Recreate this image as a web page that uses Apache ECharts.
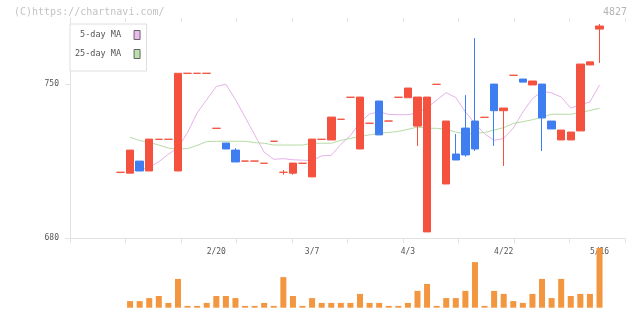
<!DOCTYPE html>
<html><head><meta charset="utf-8">
<script src="https://cdn.jsdelivr.net/npm/echarts@6/dist/echarts.min.js"></script>
<style>html,body{margin:0;padding:0;background:#fff}#c{width:640px;height:311px}</style>
</head><body><div id="c"></div>
<script>
// ---- data ----
const tickIndex = [10, 20, 30, 40, 50];
const tickLabels = ['2/20', '3/7', '4/3', '4/22', '5/16'];

const opens  = [710, 709.6, 715.1, 710.6, 725, 725, 710.6, 755, 755, 755, 730, 723.3, 720.1, 715.1, 715.1, 714.1, 724.1, 710, 709.6, 714.1, 707.9, 725, 724.7, 734.1, 744.1, 720.6, 732.3, 742.4, 733.3, 744.1, 743.9, 731.0, 682.9, 750, 704.7, 718.3, 730.1, 733.3, 735, 750.1, 738.0, 754.1, 752.4, 749.7, 750.1, 733.3, 724.7, 724.7, 728.8, 758.8, 775.1];
const closes = [710, 720.1, 710.6, 725.1, 725, 725, 755, 755, 755, 755, 730, 720.6, 714.7, 715.1, 715.1, 714.1, 724.1, 710, 714.2, 714.1, 725.1, 725, 735.1, 734.1, 744.1, 744.2, 732.3, 727.0, 733.3, 744.1, 748.3, 744.2, 744.2, 750, 733.3, 715.6, 717.9, 720.6, 735, 738.0, 739.2, 754.1, 751.0, 751.5, 734.7, 729.7, 729.2, 728.3, 759.2, 760.2, 776.5];
const lows   = [710, 709.6, 710.6, 710.6, 725, 725, 710.6, 755, 755, 755, 730, 720.6, 714.7, 715.1, 715.1, 714.1, 724.1, 708.9, 708.9, 714.1, 707.9, 725, 724.7, 734.1, 744.1, 720.6, 732.3, 727.0, 733.3, 744.1, 743.9, 722.0, 682.9, 750, 704.7, 715.6, 717.1, 719.7, 735, 722.0, 712.9, 754.1, 751.0, 749.7, 719.7, 729.7, 724.7, 724.7, 728.8, 758.8, 759.7];
const highs  = [710, 720.1, 715.1, 725.1, 725, 725, 755, 755, 755, 755, 730, 723.3, 721.0, 715.1, 715.1, 714.1, 724.1, 711.0, 714.2, 714.1, 725.1, 725, 735.1, 734.1, 744.1, 744.2, 732.3, 742.4, 733.3, 744.1, 748.3, 744.2, 744.2, 750, 733.3, 727.4, 745.1, 771.0, 735, 750.1, 739.2, 754.1, 752.4, 751.5, 750.1, 733.3, 729.2, 728.3, 759.2, 760.2, 777.4];
const volumes = [0, 220, 220, 320, 390, 160, 960, 60, 60, 160, 390, 390, 320, 60, 60, 160, 60, 1020, 390, 60, 320, 160, 160, 160, 160, 460, 160, 160, 60, 60, 160, 560, 790, 60, 320, 320, 560, 1520, 60, 560, 460, 220, 160, 460, 960, 320, 960, 390, 460, 460, 1990];
const ma5  = [null, 711.0, 711.0, 712.3, 714.8, 718.2, 721.2, 728.1, 737.0, 743.0, 749.0, 750.0, 743.1, 735.1, 727.1, 719.1, 715.9, 716.2, 715.7, 715.5, 715.3, 717.5, 717.7, 722.7, 726.7, 732.7, 736.5, 737.5, 736.3, 736.2, 736.2, 737.0, 739.4, 742.8, 746.2, 744.0, 737.5, 732.2, 727.5, 724.5, 725.4, 730.1, 737.4, 743.5, 746.8, 746.1, 744.2, 739.2, 740.6, 742.0, 749.7];
const ma25 = [null, 725.9, 724.5, 723.6, 722.4, 721.0, 720.5, 720.8, 722.2, 724.0, 724.1, 724.1, 724.1, 724.1, 723.5, 723.2, 722.4, 722.4, 722.4, 722.4, 723.2, 723.2, 723.2, 724.5, 725.4, 726.3, 727.0, 727.7, 728.1, 728.6, 729.5, 730.6, 730.0, 730.0, 729.5, 728.3, 727.4, 727.7, 728.1, 729.2, 730.3, 732.2, 733.0, 733.9, 735.1, 736.4, 736.4, 736.4, 737.2, 738.1, 739.1];
const yTicks = [680, 750];

// ---- chart ----
const RED = '#f4523f', BLUE = '#3e7ef0', ORANGE = '#f2963f';
const PINK = '#e6b2ea', GREEN = '#b6dba6', AX = '#e2e2e2';
const MONO = 'DejaVu Sans Mono';

const categories = opens.map((_, i) => {
  const k = tickIndex.indexOf(i);
  return k >= 0 ? tickLabels[k] : String(i);
});
const candleData = opens.map((o, i) => {
  const item = { value: [o, closes[i], lows[i], highs[i]] };
  if (o === closes[i]) item.itemStyle = { color: RED, color0: RED, borderColor: RED, borderColor0: RED };
  return item;
});

const chart = echarts.init(document.getElementById('c'), null, { renderer: 'canvas' });
chart.setOption({
  animation: false,
  backgroundColor: '#fff',
  title: [
    { text: '(C)https://chartnavi.com/', left: 14, top: 7.5, padding: 0,
      textStyle: { fontFamily: MONO, fontSize: 10, fontWeight: 'normal', color: '#c4c4c4' } },
    { text: '4827', right: 13, top: 7.5, padding: 0,
      textStyle: { fontFamily: MONO, fontSize: 10, fontWeight: 'normal', color: '#b4b4b4' } }
  ],
  legend: {
    data: ['5-day MA', '25-day MA'], orient: 'vertical', left: 70, top: 24, align: 'right',
    icon: 'rect', itemWidth: 6, itemHeight: 9, itemGap: 9, padding: [6, 6, 12, 5],
    backgroundColor: '#fff', borderColor: '#dedede', borderWidth: 1, selectedMode: false,
    textStyle: { fontFamily: MONO, fontSize: 8.5, color: '#555', padding: [0, 8, 0, 0] },
    itemStyle: { borderColor: '#666', borderWidth: 1 }
  },
  grid: [
    { left: 115.7, width: 488.6, top: 18.3, height: 220 },
    { left: 70, width: 555, top: 18.3, height: 220 },
    { left: 115.7, width: 488.6, top: 247.7, height: 60 }
  ],
  xAxis: [
    { gridIndex: 0, type: 'category', data: categories, boundaryGap: true,
      axisLine: { show: false }, axisTick: { show: false }, splitLine: { show: false },
      axisLabel: { interval: (i) => tickIndex.includes(i), margin: 10, fontSize: 8, fontFamily: MONO, color: '#555' } },
    { gridIndex: 1, type: 'value', min: 0, max: 10, interval: 1,
      axisLine: { show: true, lineStyle: { color: AX } },
      axisTick: { show: true, length: 5, lineStyle: { color: AX } },
      axisLabel: { show: false }, splitLine: { show: false } },
    { gridIndex: 1, type: 'value', min: 0, max: 10, interval: 1,
      axisLine: { show: false },
      axisTick: { show: true, inside: true, length: 4, lineStyle: { color: AX } },
      axisLabel: { show: false }, splitLine: { show: false } },
    { gridIndex: 2, type: 'category', data: categories, show: false }
  ],
  yAxis: [
    { gridIndex: 0, type: 'value', min: 680, max: 780, show: false, splitLine: { show: false } },
    { gridIndex: 1, type: 'value', min: 680, max: 780,
      axisLine: { show: true, lineStyle: { color: AX } },
      axisTick: { show: true, length: 5, customValues: yTicks, lineStyle: { color: AX } },
      axisLabel: { customValues: yTicks, margin: 11, fontSize: 8, fontFamily: MONO, color: '#555' },
      splitLine: { show: false } },
    { gridIndex: 1, type: 'value', min: 680, max: 780,
      axisLine: { show: false },
      axisTick: { show: true, inside: true, length: 4, customValues: yTicks, lineStyle: { color: AX } },
      axisLabel: { show: false }, splitLine: { show: false } },
    { gridIndex: 2, type: 'value', min: 0, max: 2000, show: false, splitLine: { show: false } }
  ],
  series: [
    { name: '5-day MA', type: 'line', xAxisIndex: 0, yAxisIndex: 0, data: ma5, z: 1,
      symbol: 'none', showSymbol: false, lineStyle: { width: 1, color: PINK }, itemStyle: { color: '#ebb9ef' } },
    { name: '25-day MA', type: 'line', xAxisIndex: 0, yAxisIndex: 0, data: ma25, z: 1,
      symbol: 'none', showSymbol: false, lineStyle: { width: 1, color: GREEN }, itemStyle: { color: '#b9e0aa' } },
    { name: 'price', type: 'candlestick', xAxisIndex: 0, yAxisIndex: 0, data: candleData, z: 3,
      barWidth: 8,
      itemStyle: { color: RED, color0: BLUE, borderColor: RED, borderColor0: BLUE, borderColorDoji: RED, borderWidth: 1 } },
    { name: 'volume', type: 'bar', xAxisIndex: 3, yAxisIndex: 3, data: volumes, z: 3,
      barWidth: 6, itemStyle: { color: ORANGE } }
  ]
});
</script>
</body></html>
